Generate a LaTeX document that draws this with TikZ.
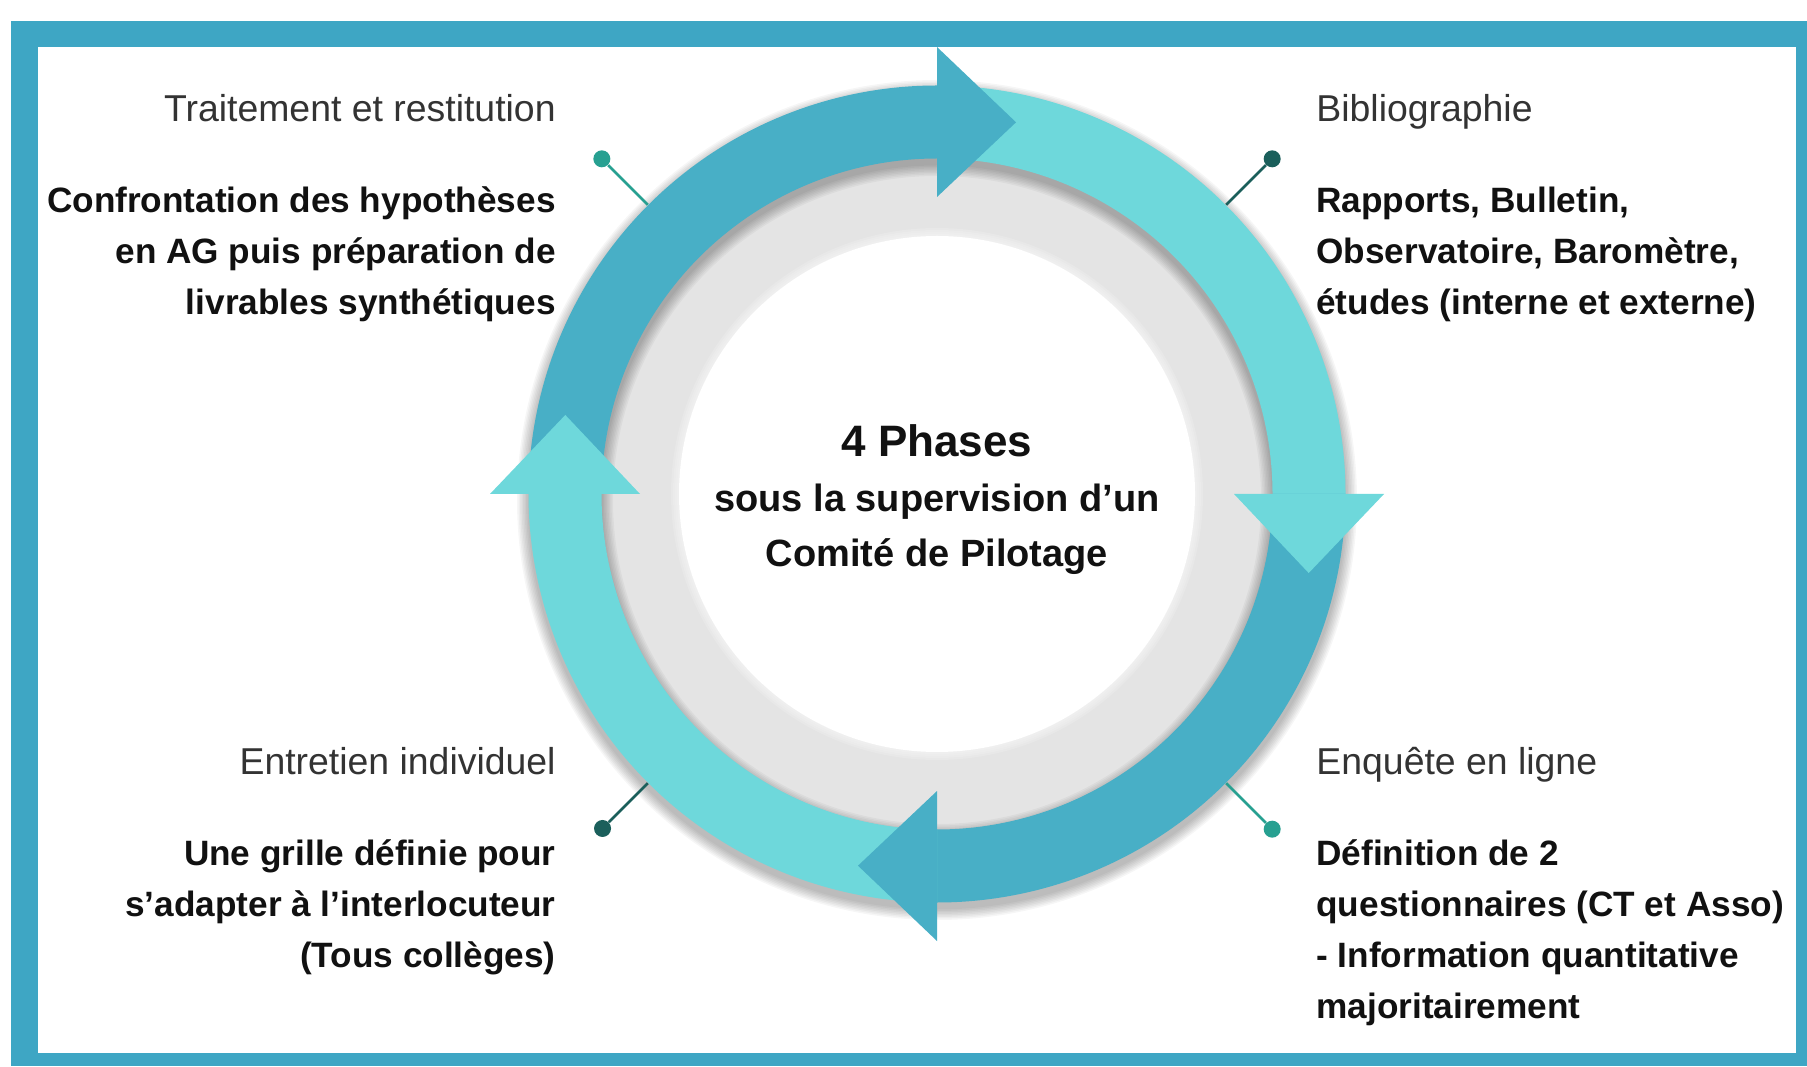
\documentclass[tikz,border=0pt]{standalone}
\usepackage{fontspec}
\setmainfont{Liberation Sans}
\usepackage{array}
\definecolor{frameblue}{HTML}{3EA6C4}
\definecolor{darkarc}{HTML}{48AFC6}
\definecolor{lightarc}{HTML}{6ED8DB}
\definecolor{ringgray}{HTML}{E4E4E4}
\definecolor{pinteal}{HTML}{27A091}
\definecolor{pindark}{HTML}{1B5F5B}
\definecolor{headgray}{HTML}{333333}
\definecolor{bodyblack}{HTML}{111111}
\tikzset{
  header/.style={inner sep=0pt, text=headgray, font=\fontsize{18.7pt}{25.5pt}\selectfont},
  bodytext/.style={inner sep=0pt, text=bodyblack, font=\bfseries\fontsize{17.6pt}{25.5pt}\selectfont},
  centertitle/.style={inner sep=0pt, text=bodyblack, font=\bfseries\fontsize{22pt}{27.5pt}\selectfont},
  centersub/.style={inner sep=0pt, text=bodyblack, font=\bfseries\fontsize{19pt}{27.5pt}\selectfont},
  pindot/.style={circle, inner sep=0pt, minimum size=8.5pt},
  pinline/.style={line width=1.4pt},
  bandshadow/.style={black, opacity=0.034},
}
\begin{document}
\begin{tikzpicture}[x=0.5pt,y=0.5pt]
\useasboundingbox (0,0) rectangle (1807,1066);
\fill[white] (0,0) rectangle (1807,1066);
% frame
\fill[frameblue] (11,0) rectangle (1807,1045);
\fill[white] (38,13) rectangle (1796,1019);

\begin{scope}[shift={(937,572)}]
  \coordinate (C) at (0,0);
  % gray ring and white centre
  \fill[ringgray] (0,0) circle (337);
  \fill[white] (0,0) circle (258);
  \foreach \w in {2,4,6,8}
    \draw[white, opacity=0.15, line width=\w pt] (0,0) circle (258);
  % soft shadow of the band
  \foreach \w in {37.5,39,40.5,42,43.5,45,46.5,48}
    \draw[bandshadow, line width=\w pt] (0,-6) circle (372);
  % band segments
  \fill[darkarc] (180:408.5) arc[start angle=180, end angle=88, radius=408.5]
     -- (88:335.5) arc[start angle=88, end angle=180, radius=335.5] -- cycle;
  \fill[lightarc] (90:408.5) arc[start angle=90, end angle=-2, radius=408.5]
     -- (-2:335.5) arc[start angle=-2, end angle=90, radius=335.5] -- cycle;
  \fill[darkarc] (0:408.5) arc[start angle=0, end angle=-92, radius=408.5]
     -- (-92:335.5) arc[start angle=-92, end angle=0, radius=335.5] -- cycle;
  \fill[lightarc] (-90:408.5) arc[start angle=-90, end angle=-182, radius=408.5]
     -- (-182:335.5) arc[start angle=-182, end angle=-90, radius=335.5] -- cycle;
  % arrow heads
  \fill[darkarc] (90:297) -- (78:380) -- (90:447) -- cycle;
  \fill[lightarc] (0:297) -- (-12:380) -- (0:447) -- cycle;
  \fill[darkarc] (-90:297) -- (-102:380) -- (-90:447) -- cycle;
  \fill[lightarc] (180:297) -- (168:380) -- (180:447) -- cycle;
  % pins
  \coordinate (r1) at (135:409);
  \coordinate (r2) at (45:409);
  \coordinate (r3) at (-45:409);
  \coordinate (r4) at (225:409);
  \node[pindot, fill=pinteal] (d1) at (135:474) {};
  \node[pindot, fill=pindark] (d2) at (45:474) {};
  \node[pindot, fill=pinteal] (d3) at (-45:474) {};
  \node[pindot, fill=pindark] (d4) at (225:473) {};
  \draw[pinline, pinteal] (r1) -- (d1);
  \draw[pinline, pindark] (r2) -- (d2);
  \draw[pinline, pinteal] (r3) -- (d3);
  \draw[pinline, pindark] (r4) -- (d4);
\end{scope}

% centre text
\node[centertitle, anchor=base] (ctitle) at (937,609) {4 Phases};
\node[centersub, anchor=base] (csub) at (937,554)
  {\begin{tabular}[t]{@{}c@{}}sous la supervision d’un\\Comité de Pilotage\end{tabular}};

% top left
\node[header, anchor=base east] (h1) at (556,944) {Traitement et restitution};
\node[bodytext, anchor=base east] (b1) at (556,853)
  {\begin{tabular}[t]{@{}r@{}}Confrontation des hypothèses\\en AG puis préparation de\\livrables synthétiques\end{tabular}};
% top right
\node[header, anchor=base west] (h2) at (1316,944) {Bibliographie};
\node[bodytext, anchor=base west] (b2) at (1316,853)
  {\begin{tabular}[t]{@{}l@{}}Rapports, Bulletin,\\Observatoire, Baromètre,\\études (interne et externe)\end{tabular}};
% bottom left
\node[header, anchor=base east] (h3) at (556,292) {Entretien individuel};
\node[bodytext, anchor=base east] (b3) at (556,201)
  {\begin{tabular}[t]{@{}r@{}}Une grille définie pour\\s’adapter à l’interlocuteur\\(Tous collèges)\end{tabular}};
% bottom right
\node[header, anchor=base west] (h4) at (1316,292) {Enquête en ligne};
\node[bodytext, anchor=base west] (b4) at (1316,201)
  {\begin{tabular}[t]{@{}l@{}}Définition de 2\\questionnaires (CT et Asso)\\- Information quantitative\\majoritairement\end{tabular}};
\end{tikzpicture}
\end{document}
